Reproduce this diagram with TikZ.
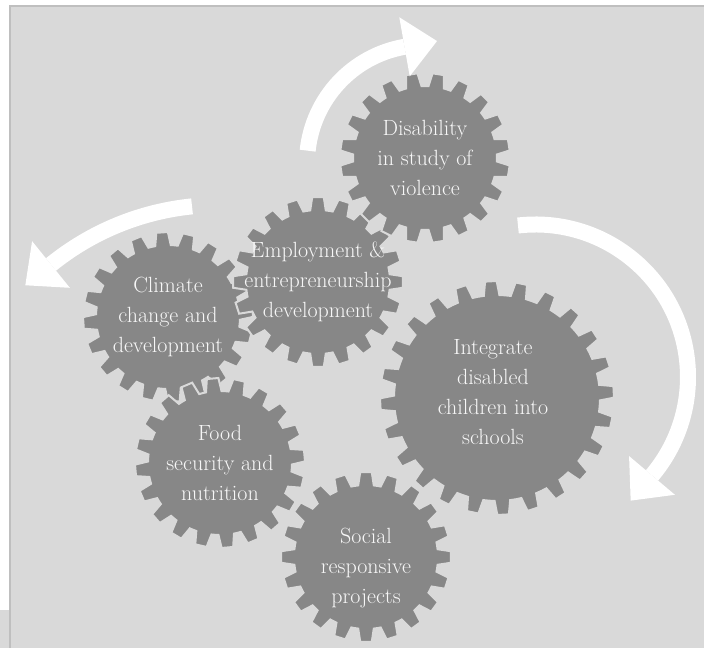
\documentclass[tikz,border=0pt]{standalone}
\usetikzlibrary{calc}
\definecolor{bgc}{HTML}{D9D9D9}
\definecolor{gearc}{HTML}{878787}
\definecolor{edgec}{HTML}{BFBFBF}
\definecolor{txtc}{HTML}{F7F7F7}
\tikzset{
  gearstyle/.style={fill=gearc, draw=bgc, line width=2pt, line join=miter},
  arrowbody/.style={draw=white, line width=16pt, line cap=butt},
  arrowtip/.style={fill=white},
  gearlabel/.style={text=txtc, align=center, inner sep=0pt,
    font=\fontsize{22}{30}\selectfont}
}
% #1,#2 centre, #3 root radius, #4 tip radius, #5 teeth, #6 phase
\newcommand\drawgear[6]{%
  \pgfmathsetmacro\ghr{7.8/#3*57.2958}%
  \pgfmathsetmacro\gho{5.8/#4*57.2958}%
  \pgfmathsetmacro\gst{360/#5}%
  \pgfmathsetmacro\gstart{#6+\gst-\ghr}%
  \filldraw[gearstyle,shift={(#1,#2)}] ({\gstart}:{#3})
    \foreach \i [evaluate=\i as \c using #6+\i*\gst] in {1,...,#5}{
      -- ({\c-\ghr}:{#3}) -- ({\c-\gho}:{#4}) -- ({\c+\gho}:{#4}) -- ({\c+\ghr}:{#3})
      arc[start angle={\c+\ghr}, end angle={\c+\gst-\ghr}, radius=#3]
    } -- cycle;
}
% #1,#2 centre, #3 radius, #4 start angle, #5 end angle, #6 direction (+1 ccw, -1 cw)
\newcommand\bentarrow[6]{%
  \draw[arrowbody] ($(#1,#2)+({#4}:{#3})$) arc[start angle=#4, end angle=#5, radius=#3];
  \fill[arrowtip] ($(#1,#2)+({#5}:{#3-30})$) -- ($(#1,#2)+({#5}:{#3+30})$)
    -- ({#1+#3*cos(#5)-(#6)*33*sin(#5)},{#2+#3*sin(#5)+(#6)*33*cos(#5)}) -- cycle;
}
\begin{document}
\begin{tikzpicture}[x=1pt,y=1pt]
\useasboundingbox (0,0) rectangle (704,648);
\fill[white] (0,0) rectangle (704,648);
\fill[bgc] (10,0) rectangle (704,642);
\fill[bgc] (0,0) rectangle (10,38);
\draw[edgec, line width=1.5pt] (10,0) -- (10,642) -- (704,642);

% gears
\drawgear{168}{331}{72}{85}{20}{4}
\drawgear{318}{366}{72}{85}{20}{0}
\drawgear{425}{490}{72}{85}{20}{9}
\drawgear{220}{185}{72}{85}{20}{5}
\drawgear{366}{91}{72}{85}{20}{0}
\drawgear{497}{250}{103}{117}{24}{3}

% arrows
\bentarrow{425}{485}{118}{174}{100}{-1}
\bentarrow{219}{176}{267}{95.8}{129}{1}
\bentarrow{535.5}{271}{152.5}{96.6}{-40.2}{-1}

% labels
\node[gearlabel] (climate) at (168,331) {Climate\\change and\\development};
\node[gearlabel] (employ) at (318,366) {Employment \&\\entrepreneurship\\development};
\node[gearlabel] (disab) at (425,490) {Disability\\in study of\\violence};
\node[gearlabel] (food) at (220,185) {Food\\security and\\nutrition};
\node[gearlabel] (social) at (366,80) {Social\\responsive\\projects};
\node[gearlabel] (integ) at (493,256) {Integrate\\disabled\\children into\\schools};
\end{tikzpicture}
\end{document}
